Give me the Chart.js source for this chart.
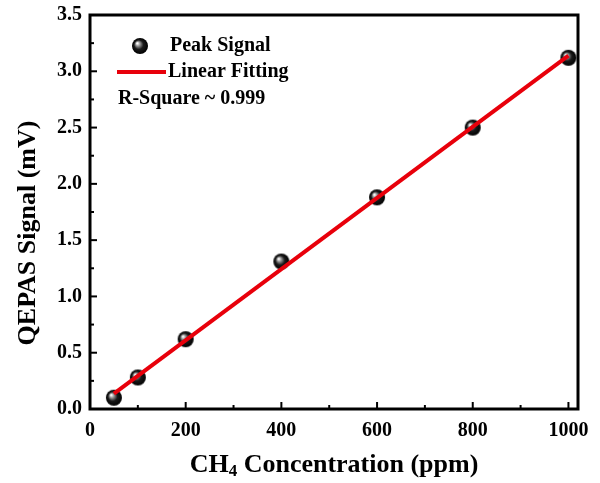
<!DOCTYPE html>
<html>
<head>
<meta charset="utf-8">
<script src="https://cdn.jsdelivr.net/npm/chart.js@4.4.1/dist/chart.umd.min.js"></script>
<style>
	html, body { margin: 0; padding: 0; background: #fff; }
	#wrap { width: 600px; height: 483px; }
</style>
</head>
<body>
<div id="wrap"><canvas id="calib"></canvas></div>
<script>
const concentration = [50, 100, 200, 400, 600, 800, 1000],
	peakSignal = [0.10, 0.28, 0.62, 1.31, 1.88, 2.50, 3.12],
	fitX = [50, 1000],
	fitY = [0.136, 3.14],
	xTicks = [0, 200, 400, 600, 800, 1000],
	yTicks = [0, 0.5, 1.0, 1.5, 2.0, 2.5, 3.0, 3.5]

const SERIF = '"Liberation Serif", "Times New Roman", serif',
	RED = '#e8000b'

// glossy black ball used as marker
function makeBall(r) {
	const c = document.createElement('canvas'),
		size = r * 2 + 2
	c.width = size
	c.height = size
	const ctx = c.getContext('2d'),
		cx = size / 2,
		cy = size / 2,
		g = ctx.createRadialGradient(cx - r * 0.35, cy - r * 0.35, 0.5, cx, cy, r)
	g.addColorStop(0, '#ffffff')
	g.addColorStop(0.22, '#9a9a9a')
	g.addColorStop(0.55, '#1a1a1a')
	g.addColorStop(1, '#000000')
	ctx.fillStyle = g
	ctx.beginPath()
	ctx.arc(cx, cy, r, 0, Math.PI * 2)
	ctx.fill()
	return c
}
const ball = makeBall(8)

const points = concentration.map((x, i) => ({ x, y: peakSignal[i] })),
	fitLine = fitX.map((x, i) => ({ x, y: fitY[i] }))

// frame, inward ticks, titles and the legend box
const decor = {
	id: 'decor',
	afterDraw(chart) {
		const { ctx, chartArea: a, scales: { x, y } } = chart
		ctx.save()
		ctx.strokeStyle = '#000'
		ctx.lineWidth = 2
		for (let v = 0; v <= 1000; v += 100) {
			const px = x.getPixelForValue(v), len = v % 200 === 0 ? 7 : 4
			ctx.beginPath()
			ctx.moveTo(px, a.bottom)
			ctx.lineTo(px, a.bottom - len)
			ctx.stroke()
		}
		for (let v = 0; v <= 3.5001; v += 0.25) {
			const py = y.getPixelForValue(v), len = Math.round(v * 4) % 2 === 0 ? 7 : 4
			ctx.beginPath()
			ctx.moveTo(a.left, py)
			ctx.lineTo(a.left + len, py)
			ctx.stroke()
		}
		ctx.lineWidth = 3
		ctx.strokeRect(a.left, a.top, a.right - a.left, a.bottom - a.top)

		ctx.fillStyle = '#000'
		ctx.textBaseline = 'middle'

		// x title with subscript
		const main = 'bold 26px ' + SERIF, sub = 'bold 17px ' + SERIF
		ctx.font = main
		const w1 = ctx.measureText('CH').width,
			w3 = ctx.measureText(' Concentration (ppm)').width
		ctx.font = sub
		const w2 = ctx.measureText('4').width
		let tx = (a.left + a.right) / 2 - (w1 + w2 + w3) / 2
		const ty = 465
		ctx.textAlign = 'left'
		ctx.font = main
		ctx.fillText('CH', tx, ty)
		ctx.font = sub
		ctx.fillText('4', tx + w1, ty + 7)
		ctx.font = main
		ctx.fillText(' Concentration (ppm)', tx + w1 + w2, ty)

		// y title
		ctx.save()
		ctx.translate(28, 233)
		ctx.rotate(-Math.PI / 2)
		ctx.textAlign = 'center'
		ctx.font = 'bold 26px ' + SERIF
		ctx.fillText('QEPAS Signal (mV)', 0, 0)
		ctx.restore()

		// legend
		ctx.drawImage(ball, 140 - ball.width / 2, 46 - ball.height / 2)
		ctx.strokeStyle = RED
		ctx.lineWidth = 4
		ctx.beginPath()
		ctx.moveTo(117, 72)
		ctx.lineTo(166, 72)
		ctx.stroke()
		ctx.font = 'bold 20px ' + SERIF
		ctx.textAlign = 'left'
		ctx.fillText('Peak Signal', 170, 46)
		ctx.fillText('Linear Fitting', 168, 72)
		ctx.fillText('R-Square ~ 0.999', 118, 99)
		ctx.restore()
	}
}

new Chart(document.getElementById('calib'), {
	type: 'scatter',
	data: {
		datasets: [
			{
				label: 'Linear Fitting',
				data: fitLine,
				showLine: true,
				borderColor: RED,
				borderWidth: 4,
				pointRadius: 0,
				order: 0
			},
			{
				label: 'Peak Signal',
				data: points,
				pointStyle: ball,
				pointRadius: 8,
				order: 1
			}
		]
	},
	options: {
		responsive: true,
		maintainAspectRatio: false,
		animation: false,
		layout: { padding: { top: 15, right: 22, left: 0, bottom: 0 } },
		plugins: { legend: { display: false }, tooltip: { enabled: false } },
		scales: {
			x: {
				type: 'linear',
				min: 0,
				max: 1020,
				afterBuildTicks: (s) => { s.ticks = xTicks.map(v => ({ value: v })) },
				afterFit: (s) => {
					s.height = 74
					s.paddingLeft = 0
					s.paddingRight = 0
				},
				grid: { display: false, drawTicks: false },
				border: { display: false },
				ticks: {
					padding: 10,
					color: '#000',
					font: { family: SERIF, size: 20, weight: 'bold' },
					callback: (v) => String(v)
				}
			},
			y: {
				type: 'linear',
				min: 0,
				max: 3.5,
				afterBuildTicks: (s) => { s.ticks = yTicks.map(v => ({ value: v })) },
				afterFit: (s) => {
					s.width = 90
					s.paddingTop = 0
					s.paddingBottom = 0
				},
				grid: { display: false, drawTicks: false },
				border: { display: false },
				ticks: {
					padding: 8,
					color: '#000',
					font: { family: SERIF, size: 20, weight: 'bold' },
					callback: (v) => v.toFixed(1)
				}
			}
		}
	},
	plugins: [decor]
})
</script>
</body>
</html>
